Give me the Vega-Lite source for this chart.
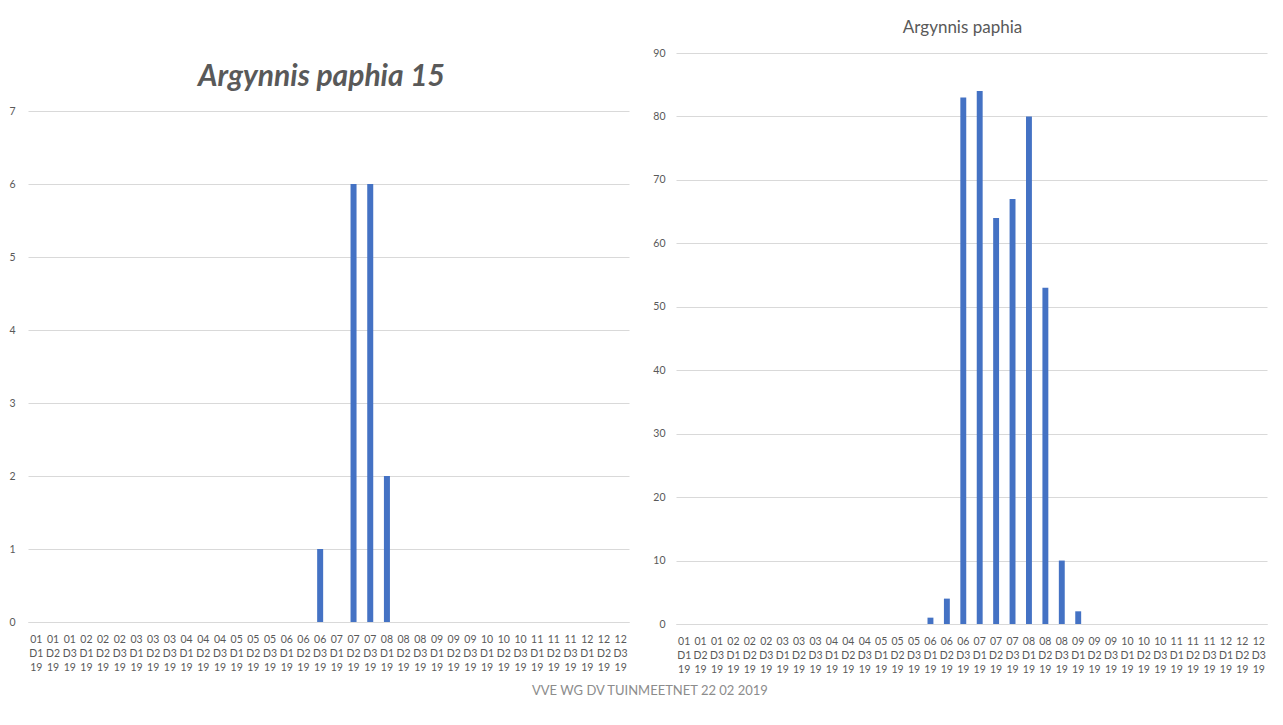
{
  "$schema": "https://vega.github.io/schema/vega-lite/v6.json",
  "background": "white",
  "padding": {"left": 8, "top": 19, "right": 10, "bottom": 10},
  "bounds": "flush",
  "title": {"text": "VVE WG DV TUINMEETNET 22 02 2019", "orient": "bottom", "anchor": "middle", "fontSize": 13, "font": "Lato", "fontWeight": "normal", "color": "#8c8c8c", "offset": 10, "dx": 12},
  "datasets": {
    "left": [
      {"period": "01 D1 19", "count": 0}, {"period": "01 D2 19", "count": 0}, {"period": "01 D3 19", "count": 0},
      {"period": "02 D1 19", "count": 0}, {"period": "02 D2 19", "count": 0}, {"period": "02 D3 19", "count": 0},
      {"period": "03 D1 19", "count": 0}, {"period": "03 D2 19", "count": 0}, {"period": "03 D3 19", "count": 0},
      {"period": "04 D1 19", "count": 0}, {"period": "04 D2 19", "count": 0}, {"period": "04 D3 19", "count": 0},
      {"period": "05 D1 19", "count": 0}, {"period": "05 D2 19", "count": 0}, {"period": "05 D3 19", "count": 0},
      {"period": "06 D1 19", "count": 0}, {"period": "06 D2 19", "count": 0}, {"period": "06 D3 19", "count": 1},
      {"period": "07 D1 19", "count": 0}, {"period": "07 D2 19", "count": 6}, {"period": "07 D3 19", "count": 6},
      {"period": "08 D1 19", "count": 2}, {"period": "08 D2 19", "count": 0}, {"period": "08 D3 19", "count": 0},
      {"period": "09 D1 19", "count": 0}, {"period": "09 D2 19", "count": 0}, {"period": "09 D3 19", "count": 0},
      {"period": "10 D1 19", "count": 0}, {"period": "10 D2 19", "count": 0}, {"period": "10 D3 19", "count": 0},
      {"period": "11 D1 19", "count": 0}, {"period": "11 D2 19", "count": 0}, {"period": "11 D3 19", "count": 0},
      {"period": "12 D1 19", "count": 0}, {"period": "12 D2 19", "count": 0}, {"period": "12 D3 19", "count": 0}
    ],
    "right": [
      {"period": "01 D1 19", "count": 0}, {"period": "01 D2 19", "count": 0}, {"period": "01 D3 19", "count": 0},
      {"period": "02 D1 19", "count": 0}, {"period": "02 D2 19", "count": 0}, {"period": "02 D3 19", "count": 0},
      {"period": "03 D1 19", "count": 0}, {"period": "03 D2 19", "count": 0}, {"period": "03 D3 19", "count": 0},
      {"period": "04 D1 19", "count": 0}, {"period": "04 D2 19", "count": 0}, {"period": "04 D3 19", "count": 0},
      {"period": "05 D1 19", "count": 0}, {"period": "05 D2 19", "count": 0}, {"period": "05 D3 19", "count": 0},
      {"period": "06 D1 19", "count": 1}, {"period": "06 D2 19", "count": 4}, {"period": "06 D3 19", "count": 83},
      {"period": "07 D1 19", "count": 84}, {"period": "07 D2 19", "count": 64}, {"period": "07 D3 19", "count": 67},
      {"period": "08 D1 19", "count": 80}, {"period": "08 D2 19", "count": 53}, {"period": "08 D3 19", "count": 10},
      {"period": "09 D1 19", "count": 2}, {"period": "09 D2 19", "count": 0}, {"period": "09 D3 19", "count": 0},
      {"period": "10 D1 19", "count": 0}, {"period": "10 D2 19", "count": 0}, {"period": "10 D3 19", "count": 0},
      {"period": "11 D1 19", "count": 0}, {"period": "11 D2 19", "count": 0}, {"period": "11 D3 19", "count": 0},
      {"period": "12 D1 19", "count": 0}, {"period": "12 D2 19", "count": 0}, {"period": "12 D3 19", "count": 0}
    ]
  },
  "spacing": 47,
  "hconcat": [
    {
      "width": 601,
      "height": 569,
      "data": {"name": "left"},
      "title": {"text": "Argynnis paphia 15", "fontSize": 30, "fontStyle": "italic", "fontWeight": "bold", "color": "#595959", "font": "Lato", "baseline": "alphabetic", "offset": -63, "dx": -7},
      "mark": {"type": "bar", "color": "#4472C4"},
      "encoding": {
        "x": {"field": "period", "type": "ordinal", "sort": null, "scale": {"paddingInner": 0.64, "paddingOuter": 0.32}, "axis": {"title": null}},
        "y": {"field": "count", "type": "quantitative", "scale": {"domain": [0, 7.795], "nice": false}, "axis": {"title": null, "values": [0, 1, 2, 3, 4, 5, 6, 7], "labelPadding": 13}}
      }
    },
    {
      "width": 591,
      "height": 571,
      "data": {"name": "right"},
      "title": {"text": "Argynnis paphia", "fontSize": 17, "fontWeight": "normal", "color": "#595959", "font": "Lato", "baseline": "alphabetic", "offset": -2, "dx": -9},
      "mark": {"type": "bar", "color": "#4472C4"},
      "encoding": {
        "x": {"field": "period", "type": "ordinal", "sort": null, "scale": {"paddingInner": 0.64, "paddingOuter": 0.32}, "axis": {"title": null}},
        "y": {"field": "count", "type": "quantitative", "scale": {"domain": [0, 90], "nice": false}, "axis": {"title": null, "values": [0, 10, 20, 30, 40, 50, 60, 70, 80, 90], "labelPadding": 11}}
      }
    }
  ],
  "config": {
    "view": {"stroke": null},
    "font": "Lato",
    "axisX": {
      "labelAngle": 0,
      "labelExpr": "split(datum.label, ' ')",
      "labelOverlap": false,
      "labelBound": false,
      "labelFont": "Lato",
      "labelFontSize": 10.5,
      "labelColor": "#595959",
      "labelLineHeight": 14,
      "labelPadding": 12,
      "ticks": false,
      "domain": true,
      "domainColor": "#d9d9d9",
      "grid": false
    },
    "axisY": {
      "labelFont": "Lato",
      "labelFontSize": 10.5,
      "labelColor": "#595959",
      "ticks": false,
      "domain": false,
      "grid": true,
      "gridColor": "#d9d9d9",
      "gridWidth": 1
    }
  }
}
